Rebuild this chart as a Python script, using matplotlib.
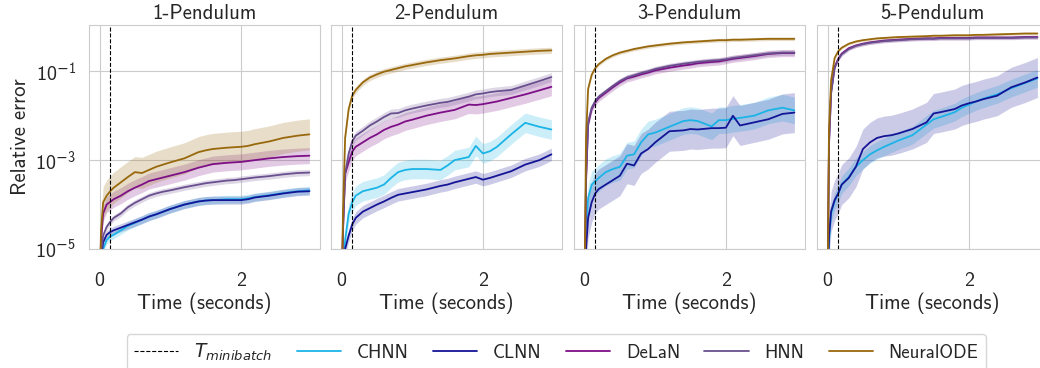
import numpy as np
import matplotlib
matplotlib.use("Agg")
import matplotlib.pyplot as plt
import seaborn as sns

sns.set_style("whitegrid")
plt.rcParams['font.family'] = ['cmss10', 'DejaVu Sans']
plt.rcParams['axes.unicode_minus'] = False
plt.rcParams['mathtext.fontset'] = 'custom'
plt.rcParams['mathtext.rm'] = 'cmss10'
plt.rcParams['mathtext.sf'] = 'cmss10'
plt.rcParams['mathtext.it'] = 'DejaVu Sans:italic'
plt.rcParams['mathtext.cal'] = 'DejaVu Sans'

# time grid (seconds)
t = [0, 0.02, 0.05, 0.1, 0.15, 0.2, 0.3, 0.4, 0.5, 0.6, 0.7, 0.8, 0.9, 1.0,
     1.2, 1.4, 1.5, 1.6, 1.8, 1.9, 2.0, 2.1, 2.2, 2.4, 2.6, 2.8, 2.97]

t_minibatch = 0.15
panels = ["1-Pendulum", "2-Pendulum", "3-Pendulum", "5-Pendulum"]
models = ["CHNN", "CLNN", "DeLaN", "HNN", "NeuralODE"]
colors = {"CHNN": "#1ab4e6", "CLNN": "#141496", "DeLaN": "#7d0f87",
          "HNN": "#6a4f8f", "NeuralODE": "#98680c"}
ytick_vals = [1e-5, 1e-3, 1e-1]
ytick_text = [r'$10^{\mathcal{-}5}$', r'$10^{\mathcal{-}3}$', r'$10^{\mathcal{-}1}$']

# log10 of mean relative error, one list per model per panel
chnn_1 = [-6, -5.3, -5.0, -4.8, -4.72, -4.68, -4.58, -4.48, -4.41, -4.34, -4.27, -4.22, -4.16, -4.1,
          -4.0, -3.93, -3.91, -3.9, -3.88, -3.88, -3.88, -3.86, -3.83, -3.79, -3.74, -3.7, -3.68]
clnn_1 = [-6, -5.2, -4.85, -4.68, -4.62, -4.58, -4.52, -4.46, -4.4, -4.34, -4.27, -4.22, -4.16, -4.1,
          -4.0, -3.93, -3.91, -3.9, -3.9, -3.9, -3.9, -3.88, -3.84, -3.8, -3.75, -3.71, -3.7]
delan_1 = [-6, -4.8, -4.2, -4.0, -3.94, -3.88, -3.8, -3.7, -3.62, -3.55, -3.47, -3.43, -3.39, -3.35,
           -3.27, -3.17, -3.13, -3.09, -3.06, -3.05, -3.04, -3.02, -3.0, -2.96, -2.93, -2.91, -2.9]
hnn_1 = [-6, -5.1, -4.7, -4.5, -4.39, -4.3, -4.2, -4.06, -3.96, -3.88, -3.8, -3.75, -3.71, -3.68,
         -3.61, -3.55, -3.52, -3.5, -3.46, -3.45, -3.43, -3.41, -3.39, -3.36, -3.32, -3.29, -3.28]
node_1 = [-6, -4.6, -3.95, -3.8, -3.7, -3.62, -3.5, -3.38, -3.27, -3.29, -3.22, -3.15, -3.1, -3.05,
          -2.96, -2.82, -2.78, -2.75, -2.72, -2.71, -2.7, -2.68, -2.64, -2.58, -2.5, -2.45, -2.42]

chnn_2 = [-6, -5.5, -4.8, -4.2, -3.95, -3.8, -3.7, -3.66, -3.62, -3.55, -3.4, -3.27, -3.22, -3.2,
          -3.2, -3.22, -3.12, -3.0, -2.93, -2.68, -2.85, -2.8, -2.7, -2.42, -2.16, -2.25, -2.31]
clnn_2 = [-6, -5.8, -5.0, -4.7, -4.45, -4.3, -4.16, -4.08, -4.0, -3.93, -3.85, -3.78, -3.75, -3.72,
          -3.66, -3.58, -3.55, -3.5, -3.42, -3.38, -3.44, -3.4, -3.35, -3.25, -3.1, -3.0, -2.87]
delan_2 = [-6, -4.6, -3.3, -3.05, -2.81, -2.7, -2.6, -2.5, -2.42, -2.32, -2.25, -2.2, -2.13, -2.09,
           -2.0, -1.93, -1.9, -1.87, -1.75, -1.76, -1.74, -1.71, -1.68, -1.6, -1.52, -1.43, -1.35]
hnn_2 = [-6, -4.5, -3.3, -2.85, -2.58, -2.45, -2.34, -2.22, -2.13, -2.03, -1.95, -1.94, -1.88, -1.84,
         -1.77, -1.71, -1.69, -1.65, -1.57, -1.52, -1.5, -1.47, -1.45, -1.42, -1.32, -1.22, -1.13]
node_2 = [-6, -4.2, -2.5, -1.85, -1.55, -1.42, -1.25, -1.14, -1.07, -1.01, -0.97, -0.93, -0.89, -0.86,
          -0.8, -0.75, -0.73, -0.71, -0.66, -0.64, -0.63, -0.61, -0.6, -0.58, -0.56, -0.54, -0.53]

chnn_3 = [-6, -4.6, -3.85, -3.55, -3.48, -3.4, -3.27, -3.2, -3.15, -2.9, -2.87, -2.6, -2.42, -2.38,
          -2.25, -2.12, -2.1, -2.12, -2.24, -2.1, -2.1, -2.07, -2.05, -2.0, -1.88, -1.82, -1.88]
clnn_3 = [-6, -5.0, -4.3, -3.95, -3.75, -3.65, -3.55, -3.45, -3.35, -3.08, -3.12, -2.85, -2.75, -2.6,
          -2.35, -2.33, -2.3, -2.31, -2.28, -2.28, -2.27, -2.0, -2.22, -2.15, -2.08, -1.96, -1.93]
delan_3 = [-6, -3.5, -2.2, -1.85, -1.7, -1.6, -1.48, -1.36, -1.25, -1.16, -1.12, -1.07, -1.03, -0.98,
           -0.92, -0.87, -0.85, -0.82, -0.79, -0.78, -0.75, -0.72, -0.7, -0.66, -0.61, -0.59, -0.59]
hnn_3 = [-6, -3.4, -2.15, -1.82, -1.67, -1.57, -1.45, -1.33, -1.22, -1.14, -1.09, -1.04, -1.0, -0.95,
         -0.88, -0.83, -0.81, -0.79, -0.76, -0.75, -0.73, -0.7, -0.68, -0.64, -0.6, -0.58, -0.58]
node_3 = [-6, -2.5, -1.4, -1.08, -0.93, -0.84, -0.72, -0.64, -0.58, -0.54, -0.5, -0.47, -0.44, -0.42,
          -0.38, -0.35, -0.34, -0.33, -0.31, -0.3, -0.3, -0.29, -0.29, -0.28, -0.27, -0.27, -0.27]

chnn_4 = [-6, -4.8, -4.2, -3.92, -3.75, -3.55, -3.38, -3.15, -3.0, -2.87, -2.78, -2.7, -2.63, -2.56,
          -2.44, -2.2, -2.08, -2.03, -1.92, -1.82, -1.75, -1.68, -1.62, -1.52, -1.38, -1.26, -1.16]
clnn_4 = [-6, -4.7, -4.15, -3.9, -3.75, -3.55, -3.4, -3.15, -2.75, -2.6, -2.5, -2.46, -2.44, -2.4,
          -2.3, -2.15, -1.95, -1.92, -1.85, -1.77, -1.72, -1.68, -1.63, -1.55, -1.36, -1.25, -1.14]
delan_4 = [-6, -2.6, -1.45, -0.9, -0.72, -0.6, -0.48, -0.42, -0.38, -0.35, -0.33, -0.31, -0.3, -0.29,
           -0.27, -0.26, -0.26, -0.25, -0.25, -0.25, -0.25, -0.24, -0.24, -0.24, -0.24, -0.23, -0.23]
hnn_4 = [-6, -2.65, -1.5, -0.92, -0.74, -0.62, -0.5, -0.43, -0.39, -0.36, -0.34, -0.32, -0.31, -0.3,
         -0.28, -0.27, -0.27, -0.26, -0.26, -0.26, -0.26, -0.25, -0.25, -0.25, -0.25, -0.24, -0.24]
node_4 = [-6, -2.3, -1.2, -0.7, -0.55, -0.47, -0.38, -0.33, -0.3, -0.28, -0.26, -0.25, -0.24, -0.23,
          -0.22, -0.21, -0.2, -0.2, -0.19, -0.19, -0.19, -0.18, -0.18, -0.17, -0.16, -0.15, -0.15]

# half-width of the shaded band (log10 units), same model order
band_1 = [0.09, 0.09, 0.18, 0.07, 0.35]
band_2 = [0.22, 0.14, 0.2, 0.1, 0.07]
band_3 = [0.3, 0.45, 0.08, 0.06, 0.04]
band_4 = [0.2, 0.45, 0.04, 0.04, 0.03]

data = [[chnn_1, clnn_1, delan_1, hnn_1, node_1],
        [chnn_2, clnn_2, delan_2, hnn_2, node_2],
        [chnn_3, clnn_3, delan_3, hnn_3, node_3],
        [chnn_4, clnn_4, delan_4, hnn_4, node_4]]
bands = [band_1, band_2, band_3, band_4]

fig = plt.figure(figsize=(10.4, 3.68), dpi=100)
lefts = [89, 331, 574, 817]
tt = np.array(t)
for i, name in enumerate(panels):
    ax = fig.add_axes([lefts[i] / 1040, 1 - 249 / 368, 231 / 1040, 224 / 368])
    for j, m in enumerate(models):
        y = np.array(data[i][j])
        hw = bands[i][j]
        ax.fill_between(tt, 10 ** (y - hw), 10 ** (y + hw), color=colors[m], alpha=0.22, lw=0)
        ax.plot(tt, 10 ** y, color=colors[m], lw=1.3, label=m)
    ax.axvline(t_minibatch, color='k', ls='--', lw=0.8, label=r'$T_{minibatch}$')
    ax.set_yscale('log')
    ax.set_ylim(1e-5, 1.1)
    ax.set_xlim(-0.15, 3.12)
    ax.set_yticks(ytick_vals)
    ax.yaxis.set_minor_locator(matplotlib.ticker.NullLocator())
    ax.set_xticks([0, 2])
    ax.tick_params(axis='x', labelsize=14.5, pad=13)
    ax.tick_params(axis='y', labelsize=14.5, pad=6)
    if i > 0:
        ax.set_yticklabels([])
    else:
        ax.set_yticklabels(ytick_text)
        ax.set_ylabel('Relative error', fontsize=15)
    ax.set_xlabel('Time (seconds)', fontsize=15, labelpad=2)
    ax.set_title(name, fontsize=15, pad=4)
    for s in ax.spines.values():
        s.set_color('#cccccc')

handles, labels = ax.get_legend_handles_labels()
order = [5, 0, 1, 2, 3, 4]
fig.legend([handles[k] for k in order], [labels[k] for k in order],
           loc='upper center', bbox_to_anchor=(0.535, 1 - 334 / 368), borderaxespad=0,
           ncol=6, fontsize=13.5, frameon=True, handlelength=2.35,
           handletextpad=0.85, columnspacing=1.3)

fig.savefig('out.png', dpi=100)
